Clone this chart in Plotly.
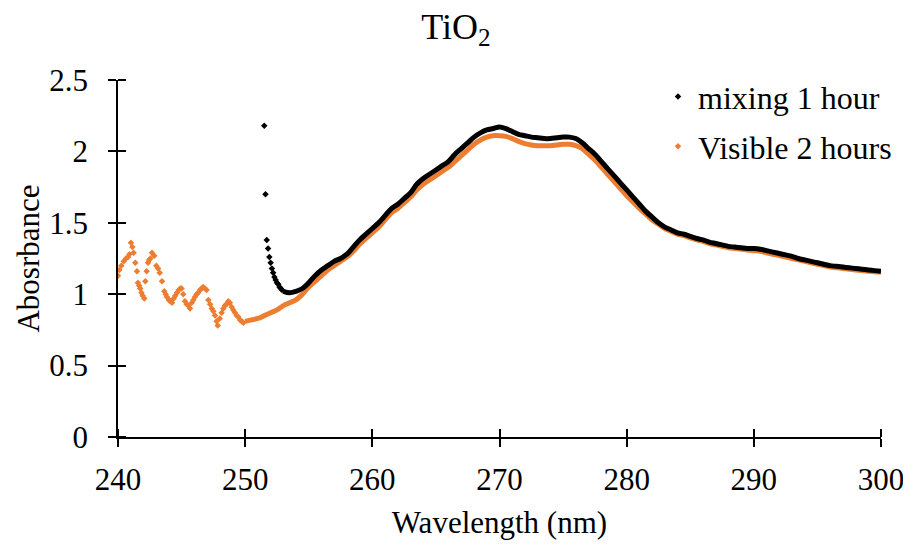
import plotly.graph_objects as go

# --- Data (TiO2 absorbance) ---
# Black series, "mixing 1 hour": sparse points at the start of the scan
WL_BLACK_START = [251.5, 251.6, 251.7, 251.8, 251.9, 252.0, 252.1, 252.2,
                  252.3, 252.4, 252.5, 252.6, 252.7, 252.8, 252.9]
ABS_BLACK_START = [2.18, 1.70, 1.38, 1.32, 1.26, 1.22, 1.18, 1.15,
                   1.12, 1.10, 1.08, 1.07, 1.05, 1.04, 1.03]

# Black series, smooth part: 253.0 nm to 300 nm, 0.5 nm steps
BLACK_SMOOTH_START = 253.0
ABS_BLACK = [1.02, 1.01, 1.02, 1.04, 1.08, 1.13, 1.17, 1.20, 1.23, 1.25,
             1.28, 1.33, 1.38, 1.42, 1.46, 1.50, 1.55, 1.60, 1.63, 1.67,
             1.71, 1.77, 1.81, 1.84, 1.87, 1.90, 1.93, 1.98, 2.02, 2.06,
             2.10, 2.13, 2.15, 2.16, 2.17, 2.16, 2.14, 2.12, 2.11, 2.10,
             2.095, 2.09, 2.09, 2.095, 2.10, 2.10, 2.09, 2.06, 2.02, 1.98,
             1.93, 1.88, 1.83, 1.78, 1.73, 1.68, 1.63, 1.58, 1.54, 1.50,
             1.47, 1.45, 1.43, 1.42, 1.405, 1.39, 1.38, 1.365, 1.355, 1.345,
             1.335, 1.33, 1.325, 1.32, 1.32, 1.315, 1.305, 1.295, 1.285, 1.275,
             1.265, 1.25, 1.24, 1.23, 1.22, 1.21, 1.20, 1.195, 1.19, 1.185,
             1.18, 1.175, 1.17, 1.165, 1.16]

# Orange series, "Visible 2 hours": noisy points below 250 nm
WL_ORANGE_NOISY = [240.0, 240.1, 240.26, 240.45, 240.63, 240.79, 240.9, 241.02,
                   241.13, 241.23, 241.36, 241.49, 241.57, 241.66, 241.75, 241.85,
                   241.94, 242.07, 242.15, 242.25, 242.36, 242.45, 242.54, 242.67,
                   242.85, 243.01, 243.15, 243.28, 243.46, 243.64, 243.75, 243.85,
                   244.0, 244.11, 244.25, 244.38, 244.5, 244.64, 244.77, 244.9,
                   245.0, 245.13, 245.27, 245.4, 245.53, 245.66, 245.8, 245.92,
                   246.05, 246.18, 246.3, 246.45, 246.57, 246.7, 246.84, 246.97,
                   247.1, 247.24, 247.37, 247.5, 247.63, 247.75, 247.84, 248.0,
                   248.15, 248.28, 248.41, 248.54, 248.67, 248.8, 248.94, 249.07,
                   249.2, 249.33, 249.46, 249.6, 249.73, 249.86]
ABS_ORANGE_NOISY = [1.13, 1.17, 1.20, 1.23, 1.25, 1.26, 1.28, 1.36,
                    1.33, 1.29, 1.22, 1.16, 1.08, 1.06, 1.04, 1.01,
                    0.99, 0.97, 1.09, 1.16, 1.22, 1.24, 1.25, 1.29,
                    1.27, 1.20, 1.18, 1.15, 1.09, 1.02, 1.00, 0.98,
                    0.96, 0.95, 0.94, 0.97, 0.99, 1.01, 1.03, 1.04,
                    1.04, 1.00, 0.95, 0.93, 0.92, 0.90, 0.94, 0.96,
                    0.98, 1.00, 1.01, 1.03, 1.04, 1.05, 1.04, 1.03,
                    0.96, 0.93, 0.90, 0.88, 0.85, 0.81, 0.78, 0.83,
                    0.87, 0.90, 0.92, 0.93, 0.95, 0.94, 0.91, 0.89,
                    0.87, 0.85, 0.84, 0.82, 0.81, 0.80]

# Orange series, smooth part: 250 nm to 300 nm, 0.5 nm steps
ORANGE_SMOOTH_START = 250.0
ABS_ORANGE = [0.81, 0.82, 0.83, 0.85, 0.87, 0.89, 0.92, 0.94, 0.96, 1.00,
              1.05, 1.09, 1.13, 1.17, 1.20, 1.23, 1.26, 1.30, 1.35, 1.39,
              1.43, 1.47, 1.52, 1.57, 1.60, 1.64, 1.68, 1.73, 1.77, 1.80,
              1.83, 1.86, 1.89, 1.93, 1.97, 2.01, 2.05, 2.08, 2.10, 2.11,
              2.11, 2.105, 2.09, 2.07, 2.055, 2.045, 2.04, 2.04, 2.04, 2.045,
              2.05, 2.05, 2.04, 2.02, 1.98, 1.94, 1.89, 1.84, 1.79, 1.74,
              1.69, 1.645, 1.60, 1.56, 1.52, 1.49, 1.46, 1.44, 1.42, 1.41,
              1.395, 1.38, 1.37, 1.355, 1.345, 1.335, 1.325, 1.32, 1.315, 1.31,
              1.305, 1.30, 1.29, 1.28, 1.27, 1.26, 1.25, 1.24, 1.23, 1.22,
              1.21, 1.20, 1.19, 1.185, 1.18, 1.175, 1.17, 1.165, 1.16, 1.158,
              1.155]

X_TICKS = [240, 250, 260, 270, 280, 290, 300]
Y_TICKS = [0, 0.5, 1, 1.5, 2, 2.5]
Y_TICK_LABELS = ["0", "0.5", "1", "1.5", "2", "2.5"]

BLACK = '#000000'
ORANGE = '#ED7D31'
FONT = "Liberation Serif, Times New Roman, serif"

wl_black = [BLACK_SMOOTH_START + 0.5 * i for i in range(len(ABS_BLACK))]
wl_orange = [ORANGE_SMOOTH_START + 0.5 * i for i in range(len(ABS_ORANGE))]

fig = go.Figure()

# Orange first so the black series sits on top
fig.add_trace(go.Scatter(
    x=WL_ORANGE_NOISY, y=ABS_ORANGE_NOISY, mode='markers',
    name='Visible 2 hours', legendgroup='orange', legendrank=2,
    marker=dict(symbol='diamond', size=5, color=ORANGE),
))
fig.add_trace(go.Scatter(
    x=wl_orange, y=ABS_ORANGE, mode='lines', line_shape='spline',
    legendgroup='orange', showlegend=False,
    line=dict(color=ORANGE, width=5),
))
fig.add_trace(go.Scatter(
    x=WL_BLACK_START, y=ABS_BLACK_START, mode='markers',
    name='mixing 1 hour', legendgroup='black', legendrank=1,
    marker=dict(symbol='diamond', size=5, color=BLACK),
))
fig.add_trace(go.Scatter(
    x=wl_black, y=ABS_BLACK, mode='lines', line_shape='spline',
    legendgroup='black', showlegend=False,
    line=dict(color=BLACK, width=5),
))

axis_common = dict(
    showgrid=False, zeroline=False, showline=True, automargin=False,
    linecolor='black', linewidth=1.5,
    tickcolor='black', tickwidth=1.5, ticklen=8, ticks='outside',
    tickfont=dict(size=31),
)

# The page body adds an 8px margin at the top/left, so the figure starts at (8, 8);
# it is 903 wide so the "300" tick label still fits inside the figure.
fig.update_layout(
    width=903, height=532,
    margin=dict(l=110, r=30, t=72, b=103),
    paper_bgcolor='white', plot_bgcolor='white',
    font=dict(family=FONT, size=26, color='black'),
    title=dict(text="TiO<sub>2</sub>", x=0.496, xref='container', xanchor='center',
               y=0.966, yanchor='middle', font=dict(size=36)),
    xaxis=dict(
        **axis_common, range=[240, 300], tickmode='array', tickvals=X_TICKS,
        ticklabelstandoff=6,
        # minor ticks at the same places, drawn inside -> crossing ticks
        minor=dict(ticks='inside', ticklen=8, tickwidth=1.5, tickcolor='black',
                   tick0=240, dtick=10, showgrid=False),
        title=dict(text="Wavelength (nm)", standoff=20),
    ),
    yaxis=dict(
        **axis_common, range=[0, 2.5], tickmode='array', tickvals=Y_TICKS,
        ticktext=Y_TICK_LABELS, ticklabelstandoff=14,
        minor=dict(ticks='inside', ticklen=8, tickwidth=1.5, tickcolor='black',
                   tick0=0, dtick=0.5, showgrid=False),
        title=dict(text="Abosrbance", standoff=0),
    ),
    # right-anchored, inside the limit where it would push the right margin
    legend=dict(
        x=1.021, y=1.03, xanchor='right', yanchor='top',
        bgcolor='rgba(0,0,0,0)', tracegroupgap=5,
        font=dict(size=32),
    ),
    showlegend=True,
)

fig.write_html("out.html")
